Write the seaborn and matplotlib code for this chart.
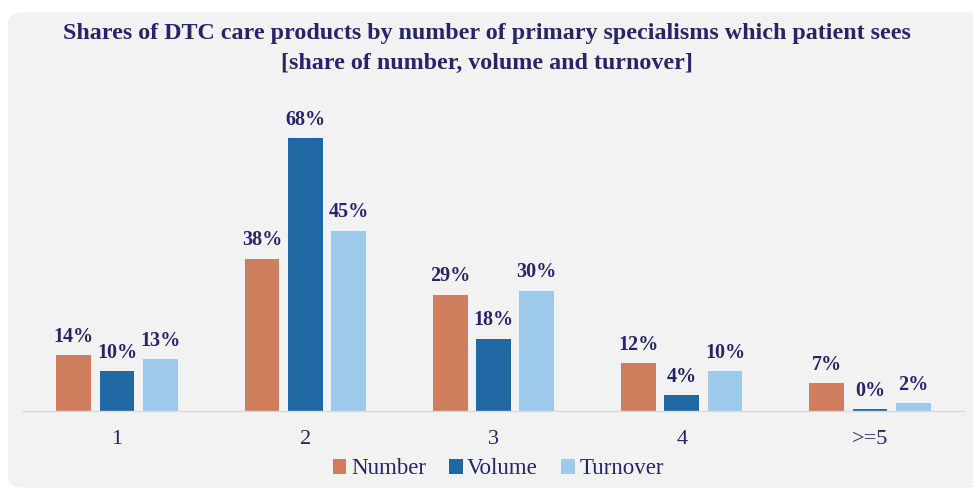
import matplotlib
matplotlib.use("Agg")
import matplotlib.pyplot as plt
import seaborn as sns
import pandas as pd
from matplotlib.patches import FancyBboxPatch, Patch

categories = ["1", "2", "3", "4", ">=5"]
number = [14, 38, 29, 12, 7]
volume = [10, 68, 18, 4, 0.4]
turnover = [13, 45, 30, 10, 2]
series_names = ["Number", "Volume", "Turnover"]
colors = ["#CF7F5E", "#1F68A4", "#9DC9EA"]
text_color = "#27246A"

df = pd.DataFrame({
    "category": categories * 3,
    "value": number + volume + turnover,
    "series": [s for s in series_names for _ in categories],
})

sns.set_theme(style="white")
plt.rcParams["font.family"] = ["Liberation Serif", "DejaVu Serif"]

fig = plt.figure(figsize=(9.73, 4.88), dpi=100)
fig.patch.set_facecolor("white")
bg = FancyBboxPatch((8 / 973, 0.0), 1.0, 1 - 12 / 488,
                    boxstyle="round,pad=0,rounding_size=0.02",
                    transform=fig.transFigure, facecolor="#F2F2F2",
                    edgecolor="none", zorder=-10)
fig.patches.append(bg)

ax = fig.add_axes([23 / 973, 77 / 488, (964 - 23) / 973, (411 - 100) / 488])
ax.set_facecolor("none")
sns.barplot(data=df, x="category", y="value", hue="series",
            palette=colors, width=0.69, gap=0.2, ax=ax, legend=False,
            saturation=1, errorbar=None, linewidth=0)

for cont in ax.containers:
    ax.bar_label(cont, labels=[f"{b.get_height():.0f}%" for b in cont],
                 padding=6, color=text_color, fontsize=14.5, fontweight="bold")

ax.set_ylim(0, 311 / 4.01)
ax.set_xlim(-0.5, 4.5)
ax.set_yticks([])
ax.set_xlabel("")
ax.set_ylabel("")
for s in ["top", "right", "left"]:
    ax.spines[s].set_visible(False)
ax.spines["bottom"].set_color("#D9D9D9")
ax.spines["bottom"].set_linewidth(1)
ax.tick_params(axis="x", length=0, pad=14, labelsize=16, labelcolor=text_color)

fig.text(0.5, 1 - 34 / 488, "Shares of DTC care products by number of primary specialisms which patient sees",
         ha="center", va="center", fontsize=17.3, fontweight="bold", color=text_color)
fig.text(0.5, 1 - 63 / 488, "[share of number, volume and turnover]",
         ha="center", va="center", fontsize=17.3, fontweight="bold", color=text_color)

handles = [Patch(facecolor=c, edgecolor="none") for c in colors]
fig.legend(handles, series_names, loc="center", bbox_to_anchor=(0.512, 1 - 469 / 488),
           ncol=3, frameon=False, fontsize=16.5, labelcolor=text_color,
           handlelength=0.6, handleheight=0.6, handletextpad=0.2, columnspacing=1.0,
           borderpad=0.2)

fig.savefig("out.png", dpi=100, facecolor=fig.get_facecolor())
